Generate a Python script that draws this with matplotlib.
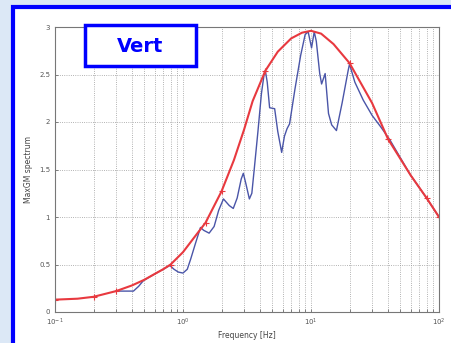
import matplotlib
matplotlib.use('Agg')
import matplotlib.pyplot as plt
from matplotlib.patches import Rectangle
from matplotlib.ticker import LogLocator, NullFormatter

# envelope (red) - smooth fit
env_f = [0.1, 0.15, 0.2, 0.3, 0.4, 0.5, 0.6, 0.7, 0.8, 1.0, 1.2, 1.5, 2.0, 2.5,
         3.0, 3.5, 4.4, 5.5, 7.0, 8.5, 10, 12, 15, 20, 30, 40, 60, 80, 100]
env_v = [0.13, 0.14, 0.16, 0.22, 0.28, 0.34, 0.40, 0.45, 0.50, 0.63, 0.77, 0.94,
         1.27, 1.60, 1.92, 2.22, 2.54, 2.74, 2.88, 2.94, 2.96, 2.93, 2.82, 2.62,
         2.20, 1.82, 1.44, 1.20, 1.00]
# marked points on the envelope
mark_f = [0.1, 0.2, 0.3, 0.8, 1.5, 2.0, 4.4, 20, 40, 80, 100]
mark_v = [0.13, 0.16, 0.22, 0.50, 0.94, 1.27, 2.54, 2.62, 1.82, 1.20, 1.00]

# measured spectrum (blue)
spec_f = [0.30, 0.35, 0.41, 0.45, 0.49, 0.55, 0.62, 0.70, 0.79, 0.85, 0.92, 1.0,
          1.08, 1.15, 1.25, 1.37, 1.45, 1.6, 1.75, 1.9, 2.07, 2.3, 2.47, 2.65,
          2.85, 2.96, 3.1, 3.3, 3.45, 3.6, 3.85, 4.1, 4.3, 4.4, 4.55, 4.75, 5.2,
          5.5, 5.9, 6.2, 6.5, 6.8, 7.5, 8.3, 9.0, 9.5, 10.1, 10.6, 11.0, 11.7,
          12.1, 12.9, 13.7, 14.5, 15.8, 17.5, 19.5, 20.0, 22, 25.6, 30, 35, 41.4,
          60, 80, 100]
spec_v = [0.22, 0.22, 0.22, 0.27, 0.33, 0.37, 0.41, 0.45, 0.49, 0.45, 0.42, 0.41,
          0.45, 0.56, 0.72, 0.89, 0.86, 0.83, 0.90, 1.07, 1.19, 1.12, 1.09, 1.20,
          1.40, 1.46, 1.35, 1.19, 1.25, 1.50, 1.90, 2.30, 2.50, 2.54, 2.42, 2.15,
          2.14, 1.90, 1.68, 1.85, 1.93, 1.98, 2.35, 2.70, 2.92, 2.95, 2.78, 2.95,
          2.85, 2.51, 2.40, 2.51, 2.09, 1.97, 1.91, 2.20, 2.54, 2.61, 2.42, 2.23,
          2.07, 1.95, 1.81, 1.44, 1.20, 1.00]

fig = plt.figure(figsize=(4.51, 3.43), dpi=100)
fig.patch.set_facecolor('#dce8f6')

# white panel with blue frame (behind the axes)
W, H = 451.0, 343.0
fig.patches.append(Rectangle((12.5 / W, -0.2), 1.2, 1.2 - 6.5 / H, transform=fig.transFigure,
                             facecolor='white', edgecolor='#0000ff', linewidth=3.0,
                             zorder=-1))

ax = fig.add_axes([55 / W, 1 - 312 / H, (439 - 55) / W, (312 - 27) / H])
ax.set_xscale('log')
ax.set_xlim(0.1, 100)
ax.set_ylim(0, 3)
ax.set_yticks([0, 0.5, 1, 1.5, 2, 2.5, 3])
ax.set_yticklabels(['0', '0.5', '1', '1.5', '2', '2.5', '3'])
ax.xaxis.set_minor_locator(LogLocator(base=10, subs=range(2, 10)))
ax.xaxis.set_minor_formatter(NullFormatter())
ax.grid(True, which='both', axis='x', linestyle=':', color='#9a9a9a', linewidth=0.6)
ax.grid(True, which='major', axis='y', linestyle=':', color='#9a9a9a', linewidth=0.6)
ax.tick_params(which='both', direction='in', labelsize=5, colors='#555555',
               length=2, width=0.5)
for s in ax.spines.values():
    s.set_color('#777777')
    s.set_linewidth(0.8)

ax.plot(spec_f, spec_v, color='#4a55a8', linewidth=1.0)
ax.plot(env_f, env_v, color='#e8393f', linewidth=1.5)
ax.plot(mark_f, mark_v, '+', color='#e8393f', markersize=4, markeredgewidth=0.8)

ax.set_xlabel('Frequency [Hz]', fontsize=5.5, color='#444444', labelpad=2)
ax.set_ylabel('MaxGM spectrum', fontsize=5.5, color='#444444', labelpad=4)

# label box on top of the axes
fig.patches.append(Rectangle((85 / W, 1 - 66 / H), 111 / W, 41 / H, transform=fig.transFigure,
                             facecolor='white', edgecolor='#0000ff', linewidth=2.5,
                             zorder=5))
fig.text(140 / W, 1 - 46 / H, 'Vert', ha='center', va='center', fontsize=14,
         fontweight='bold', color='#0000ff', family='DejaVu Sans', zorder=6)

fig.savefig('out.png', dpi=100)
